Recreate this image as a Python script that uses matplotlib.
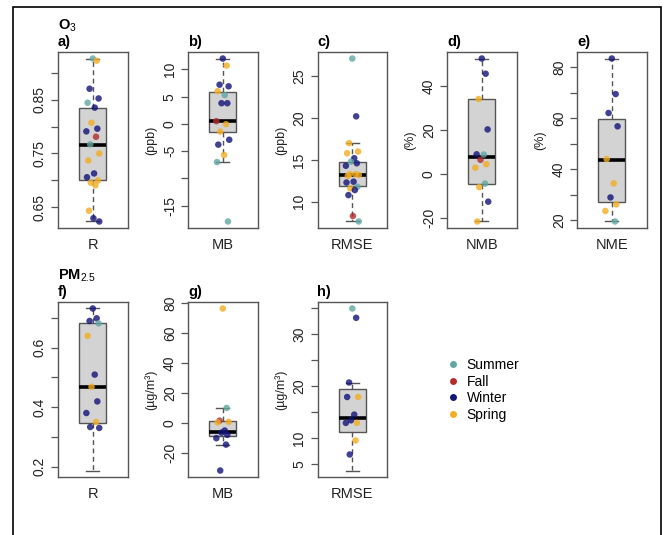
import numpy as np
import matplotlib
matplotlib.use('Agg')
import matplotlib.pyplot as plt
from matplotlib.lines import Line2D
from matplotlib.patches import Rectangle
import matplotlib.transforms as mtransforms

plt.rcParams['font.family'] = ['Liberation Sans', 'DejaVu Sans']
plt.rcParams['mathtext.fontset'] = 'custom'
plt.rcParams['mathtext.rm'] = 'Liberation Sans'
plt.rcParams['mathtext.bf'] = 'Liberation Sans:bold'
plt.rcParams['mathtext.it'] = 'Liberation Sans:italic'

# ---------------- data ----------------
season_names = ['Summer', 'Fall', 'Winter', 'Spring']
season_codes = ['S', 'F', 'W', 'P']
season_colors = ['#5fa7a3', '#b22c2c', '#13137a', '#f2ad22']

panel_letters = ['a)', 'b)', 'c)', 'd)', 'e)', 'f)', 'g)', 'h)']
metric_names = ['R', 'MB', 'RMSE', 'NMB', 'NME', 'R', 'MB', 'RMSE']
unit_labels = ['', '(ppb)', '(ppb)', '(%)', '(%)', '', '(µg/m³)', '(µg/m³)']
species = [r'$\mathbf{O}_{\mathrm{3}}$', r'$\mathbf{PM}_{\mathrm{2.5}}$']

# box stats: whislo, q1, median, q3, whishi
box_a = [0.624, 0.700, 0.765, 0.835, 0.926]
box_b = [-7.0, -1.4, 0.5, 5.8, 12.0]
box_c = [7.65, 11.9, 13.2, 14.8, 17.0]
box_d = [-21.6, -4.4, 7.8, 34.0, 52.4]
box_e = [19.6, 27.4, 43.7, 59.5, 83.3]
box_f = [0.187, 0.347, 0.469, 0.681, 0.731]
box_g = [-14.5, -8.9, -5.8, 1.2, 10.0]
box_h = [3.7, 11.1, 13.8, 19.4, 20.6]

# individual points and their seasons
a_vals = [0.926, 0.922, 0.870, 0.852, 0.844, 0.835, 0.807, 0.796, 0.791, 0.781,
          0.767, 0.750, 0.737, 0.713, 0.706, 0.700, 0.696, 0.691, 0.644, 0.630, 0.624]
a_seas = "SPWWSWPWWFSPPWWPPPPWW"
b_vals = [12.0, 10.7, 7.2, 6.9, 6.0, 5.3, 3.8, 3.8, 0.5, -0.05, -1.4, -2.9, -3.8,
          -5.7, -7.0, -17.9]
b_seas = "WPWWPSWWFPPWWPSS"
c_vals = [27.1, 20.2, 17.0, 16.0, 15.8, 15.2, 14.8, 14.6, 14.3, 13.3, 13.3, 13.2,
          13.1, 12.4, 12.3, 11.8, 11.6, 11.4, 10.8, 8.3, 7.65]
c_seas = "SWPPPWSWWPPPPWWSPWWFS"
d_vals = [52.4, 45.5, 34.0, 20.2, 8.9, 8.8, 6.4, 4.4, 2.8, -4.4, -6.0, -12.6, -21.6]
d_seas = "WWPWWSFPPSPWP"
e_vals = [83.3, 69.4, 62.0, 56.8, 44.0, 34.5, 29.0, 26.3, 23.7, 19.6]
e_seas = "WWWWPPWPPS"
f_vals = [0.731, 0.698, 0.689, 0.681, 0.639, 0.509, 0.468, 0.419, 0.380, 0.350,
          0.333, 0.330]
f_seas = "WWWSPWPWWPWW"
g_vals = [76.4, 10.0, 1.5, 0.7, 0.3, -5.1, -6.5, -8.0, -10.2, -14.5, -31.8]
g_seas = "PSFPPWWWWWW"
h_vals = [35.0, 33.2, 20.7, 17.9, 17.9, 14.5, 13.4, 12.9, 12.9, 9.5, 6.8]
h_seas = "SWWPWWWPWPW"

# y ticks and their labels (empty = tick without label)
ticks_a = [0.65, 0.70, 0.75, 0.80, 0.85, 0.90]
tlab_a = ['0.65', '', '0.75', '', '0.85', '']
ticks_b = [-15, -10, -5, 0, 5, 10]
tlab_b = ['-15', '', '-5', '0', '5', '10']
ticks_c = [10, 15, 20, 25]
tlab_c = ['10', '15', '20', '25']
ticks_d = [-20, 0, 20, 40]
tlab_d = ['-20', '0', '20', '40']
ticks_e = [20, 30, 40, 50, 60, 70, 80]
tlab_e = ['20', '', '40', '', '60', '', '80']
ticks_f = [0.2, 0.3, 0.4, 0.5, 0.6, 0.7]
tlab_f = ['0.2', '', '0.4', '', '0.6', '']
ticks_g = [-20, 0, 20, 40, 60, 80]
tlab_g = ['-20', '0', '20', '40', '60', '80']
ticks_h = [5, 10, 15, 20, 25, 30, 35]
tlab_h = ['5', '10', '', '20', '', '30', '']

boxes = [box_a, box_b, box_c, box_d, box_e, box_f, box_g, box_h]
vals = [a_vals, b_vals, c_vals, d_vals, e_vals, f_vals, g_vals, h_vals]
seas = [a_seas, b_seas, c_seas, d_seas, e_seas, f_seas, g_seas, h_seas]
ticks = [ticks_a, ticks_b, ticks_c, ticks_d, ticks_e, ticks_f, ticks_g, ticks_h]
tlabs = [tlab_a, tlab_b, tlab_c, tlab_d, tlab_e, tlab_f, tlab_g, tlab_h]

# ---------------- layout ----------------
W, H = 671, 535
fig = plt.figure(figsize=(W / 100, H / 100), dpi=100)
fig.patch.set_facecolor('white')

lefts = [58, 188, 317.5, 447, 577]
ax_w = 69.6
rows = [(52, 228), (302, 477)]
jitter_pattern = [0.0, 0.06, -0.05, 0.09, -0.08, 0.03, -0.02, 0.07, -0.1, 0.05,
                  -0.04, 0.1, -0.07, 0.02, -0.09, 0.08, -0.03, 0.04, -0.06, 0.01,
                  0.1, -0.01]

frame_col = '#555555'
code_to_idx = {c: i for i, c in enumerate(season_codes)}

for k in range(8):
    r = 0 if k < 5 else 1
    col = k if k < 5 else k - 5
    top, bot = rows[r]
    ax = fig.add_axes([lefts[col] / W, 1 - bot / H, ax_w / W, (bot - top) / H])
    b = boxes[k]
    stats = [dict(whislo=b[0], q1=b[1], med=b[2], q3=b[3], whishi=b[4], fliers=[])]
    ax.bxp(stats, positions=[1], widths=0.415, patch_artist=True, showfliers=False,
           capwidths=0.2,
           boxprops=dict(facecolor='#d3d3d3', edgecolor=frame_col, linewidth=1.0),
           medianprops=dict(color='black', linewidth=2.6, solid_capstyle='butt'),
           whiskerprops=dict(color=frame_col, linestyle=(0, (3.5, 2.5)), linewidth=1.0),
           capprops=dict(color=frame_col, linewidth=1.0))
    v = vals[k]
    cols = [season_colors[code_to_idx[c]] for c in seas[k]]
    jit = [1 + jitter_pattern[i % len(jitter_pattern)] for i in range(len(v))]
    ax.scatter(jit, v, s=22, c=cols, alpha=0.8, edgecolors='none', zorder=4)

    lo = min(b[0], min(v))
    hi = max(b[4], max(v))
    pad = 0.04 * (hi - lo)
    ax.set_ylim(lo - pad, hi + pad)
    ax.set_xlim(0.46, 1.54)

    ax.set_yticks(ticks[k])
    ax.set_yticklabels(tlabs[k], rotation=90, va='center', fontsize=10, color='#222222')
    ax.tick_params(axis='y', length=5, width=0.9, color=frame_col, pad=3)
    ax.set_xticks([1])
    ax.set_xticklabels([metric_names[k]], fontsize=10.5, color='#222222')
    ax.tick_params(axis='x', length=0, pad=7)
    for sp in ax.spines.values():
        sp.set_color(frame_col)
        sp.set_linewidth(1.0)

    if unit_labels[k]:
        ax.set_ylabel(unit_labels[k], fontsize=9, color='#222222')
        ax.yaxis.set_label_coords(-0.44, 0.5)

    ax.set_title(panel_letters[k], loc='left', fontweight='bold', fontsize=10.5, pad=4)
    if k in (0, 5):
        tr = mtransforms.offset_copy(ax.transAxes, fig=fig, x=0, y=22, units='dots')
        ax.text(0, 1, species[0 if k == 0 else 1], transform=tr, fontsize=10.5,
                ha='left', va='baseline')

# legend
handles = [Line2D([], [], marker='o', linestyle='', markersize=5,
                  markerfacecolor=c, markeredgecolor='none') for c in season_colors]
fig.legend(handles, season_names, loc='center left',
           bbox_to_anchor=(446.5 / W, 1 - 390 / H), frameon=False, fontsize=10,
           handlelength=1.0, handletextpad=0.45, labelspacing=0.18,
           borderpad=0, borderaxespad=0)

# outer frame
fig.add_artist(Rectangle((13 / W, -0.05), (661 - 13) / W, 1 - 7 / H + 0.05,
                         transform=fig.transFigure, fill=False, edgecolor='black',
                         linewidth=1.2))

fig.savefig('out.png', dpi=100)
